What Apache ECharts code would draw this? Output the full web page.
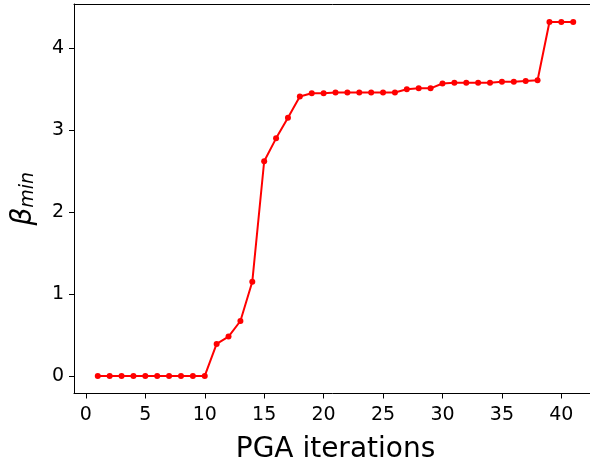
<!DOCTYPE html>
<html>
<head>
<meta charset="utf-8">
<script src="https://cdn.jsdelivr.net/npm/echarts@6/dist/echarts.min.js"></script>
<style>
html,body{margin:0;padding:0;background:#fff;}
#chart{width:590px;height:461px;}
</style>
</head>
<body>
<div id="chart"></div>
<script>
var iterations = [1,2,3,4,5,6,7,8,9,10,11,12,13,14,15,16,17,18,19,20,21,22,23,24,25,26,27,28,29,30,31,32,33,34,35,36,37,38,39,40,41];
var betaMin = [0,0,0,0,0,0,0,0,0,0,
  0.39,0.48,0.67,1.15,2.62,2.90,3.15,3.41,3.45,3.45,
  3.46,3.46,3.46,3.46,3.46,3.46,3.50,3.51,3.51,3.57,
  3.58,3.58,3.58,3.58,3.59,3.59,3.60,3.61,4.32,4.32,4.32];
var xTicks = [0,5,10,15,20,25,30,35,40];
var yTicks = [0,1,2,3,4];
var xLabel = 'PGA iterations';

var seriesData = iterations.map(function(x,i){return [x, betaMin[i]];});

var chart = echarts.init(document.getElementById('chart'), null, {renderer:'canvas'});
var font = 'DejaVu Sans';
chart.setOption({
  animation: false,
  backgroundColor: '#ffffff',
  grid: {left: 74, top: 4, width: 523, height: 389.5, show: false, containLabel: false, outerBoundsMode: 'none'},
  xAxis: [{
    type: 'value', min: -1, max: 43, position: 'bottom',
    splitLine: {show: false},
    axisLine: {show: true, onZero: false, lineStyle: {color: '#000', width: 1}},
    axisTick: {show: true, length: 5, lineStyle: {color: '#000', width: 1}, customValues: xTicks},
    axisLabel: {customValues: xTicks, color: '#000', fontSize: 19, fontFamily: font, margin: 12},
    name: xLabel, nameLocation: 'middle', nameGap: 42,
    nameTextStyle: {color: '#000', fontSize: 28, fontFamily: font}
  }, {
    type: 'value', min: -1, max: 43, position: 'top',
    splitLine: {show: false},
    axisLine: {show: true, onZero: false, lineStyle: {color: '#000', width: 1}},
    axisTick: {show: false},
    axisLabel: {show: false}
  }],
  yAxis: {
    type: 'value', min: -0.215, max: 4.54,
    splitLine: {show: false},
    axisLine: {show: true, onZero: false, lineStyle: {color: '#000', width: 1}},
    axisTick: {show: true, length: 5, lineStyle: {color: '#000', width: 1}, customValues: yTicks},
    axisLabel: {customValues: yTicks, color: '#000', fontSize: 19, fontFamily: font, margin: 10},
    name: '{b|β}{s|min}', nameLocation: 'middle', nameRotate: 90, nameGap: 36,
    nameTextStyle: {
      color: '#000', fontFamily: font,
      rich: {
        b: {fontSize: 28, fontStyle: 'italic', fontFamily: font, color: '#000', lineHeight: 28, verticalAlign: 'middle'},
        s: {fontSize: 19, fontStyle: 'italic', fontFamily: font, color: '#000', lineHeight: 3, verticalAlign: 'bottom'}
      }
    }
  },
  series: [{
    type: 'line',
    xAxisIndex: 0,
    data: seriesData,
    color: '#ff0000',
    lineStyle: {color: '#ff0000', width: 2},
    itemStyle: {color: '#ff0000'},
    symbol: 'circle', symbolSize: 6, showSymbol: true,
    emphasis: {disabled: true}
  }]
});
</script>
</body>
</html>
